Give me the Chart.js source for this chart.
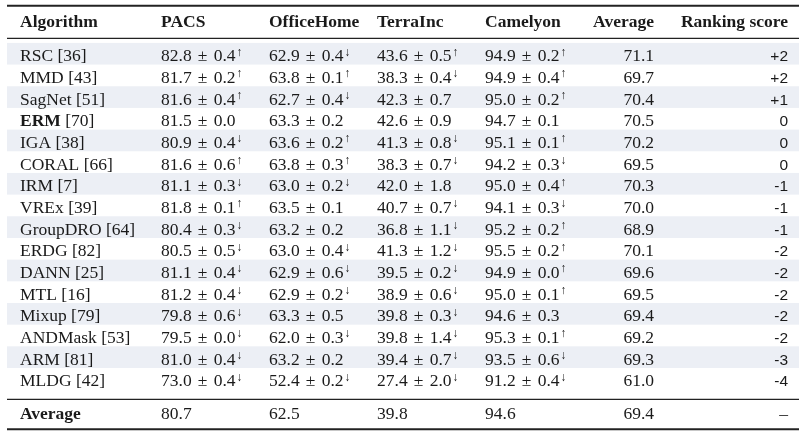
<!DOCTYPE html>
<html>
<head>
<meta charset="utf-8">
<script src="https://cdn.jsdelivr.net/npm/chart.js@4.4.1/dist/chart.umd.min.js"></script>
<style>
  html, body { margin: 0; background: #fff; }
  #wrap { width: 812px; height: 438px; }
</style>
</head>
<body>
<div id="wrap"><canvas id="tbl" width="812" height="438"></canvas></div>
<script>
// table data
const columns = ['Algorithm', 'PACS', 'OfficeHome', 'TerraInc', 'Camelyon', 'Average', 'Ranking score'];
const algorithms = ['RSC', 'MMD', 'SagNet', 'ERM', 'IGA', 'CORAL', 'IRM', 'VREx', 'GroupDRO', 'ERDG', 'DANN', 'MTL', 'Mixup', 'ANDMask', 'ARM', 'MLDG'];
const refs = [36, 43, 51, 70, 38, 66, 7, 39, 64, 82, 25, 16, 79, 53, 81, 42];
const boldAlgo = 'ERM';

const pacsMean = [82.8, 81.7, 81.6, 81.5, 80.9, 81.6, 81.1, 81.8, 80.4, 80.5, 81.1, 81.2, 79.8, 79.5, 81.0, 73.0];
const pacsStd  = [0.4, 0.2, 0.4, 0.0, 0.4, 0.6, 0.3, 0.1, 0.3, 0.5, 0.4, 0.4, 0.6, 0.0, 0.4, 0.4];
const pacsTrend = [1, 1, 1, 0, -1, 1, -1, 1, -1, -1, -1, -1, -1, -1, -1, -1];

const officeMean = [62.9, 63.8, 62.7, 63.3, 63.6, 63.8, 63.0, 63.5, 63.2, 63.0, 62.9, 62.9, 63.3, 62.0, 63.2, 52.4];
const officeStd  = [0.4, 0.1, 0.4, 0.2, 0.2, 0.3, 0.2, 0.1, 0.2, 0.4, 0.6, 0.2, 0.5, 0.3, 0.2, 0.2];
const officeTrend = [-1, 1, -1, 0, 1, 1, -1, 0, 0, -1, -1, -1, 0, -1, 0, -1];

const terraMean = [43.6, 38.3, 42.3, 42.6, 41.3, 38.3, 42.0, 40.7, 36.8, 41.3, 39.5, 38.9, 39.8, 39.8, 39.4, 27.4];
const terraStd  = [0.5, 0.4, 0.7, 0.9, 0.8, 0.7, 1.8, 0.7, 1.1, 1.2, 0.2, 0.6, 0.3, 1.4, 0.7, 2.0];
const terraTrend = [1, -1, 0, 0, -1, -1, 0, -1, -1, -1, -1, -1, -1, -1, -1, -1];

const camMean = [94.9, 94.9, 95.0, 94.7, 95.1, 94.2, 95.0, 94.1, 95.2, 95.5, 94.9, 95.0, 94.6, 95.3, 93.5, 91.2];
const camStd  = [0.2, 0.4, 0.2, 0.1, 0.1, 0.3, 0.4, 0.3, 0.2, 0.2, 0.0, 0.1, 0.3, 0.1, 0.6, 0.4];
const camTrend = [1, 1, 1, 0, 1, -1, 1, -1, 1, 1, 1, 1, 0, 1, -1, -1];

const avgScore = [71.1, 69.7, 70.4, 70.5, 70.2, 69.5, 70.3, 70.0, 68.9, 70.1, 69.6, 69.5, 69.4, 69.2, 69.3, 61.0];
const rankScore = [2, 2, 1, 0, 0, 0, -1, -1, -1, -2, -2, -2, -2, -2, -3, -4];
const colAverages = ['80.7', '62.5', '39.8', '94.6', '69.4', '\u2013'];

// layout: x in page px on a hidden linear scale, y in row units
const colX = [20, 161, 269, 377, 485, 654, 788];
const colAlign = ['left', 'left', 'left', 'left', 'left', 'right', 'right'];
const tableLeft = 7, tableRight = 799;
const Y_MIN = -2.48, Y_MAX = 17.73;
const HEADER_ROW = -1.56, AVG_ROW = 16.5;
const rules = [{ y: -2.21, w: 2 }, { y: -0.71, w: 1.2 }, { y: 15.95, w: 1.4 }, { y: 17.33, w: 2 }];

const SERIF = '17.5px "Liberation Serif", "Times New Roman", serif';
const SERIF_B = 'bold 17.5px "Liberation Serif", "Times New Roman", serif';
const SANS = '15.5px "Liberation Sans", Arial, sans-serif';
const ARROW = '12px "Liberation Serif", serif';
const INK = '#1a1a1a';
const PM_GAP = 6.2;
const BASE_SHIFT = 7.5;

function pmCells(mean, std, trend) {
  return mean.map((m, i) => ({ t: 'pm', m, s: std[i], tr: trend[i] }));
}

const bodyCells = [
  algorithms.map((a, i) => ({ t: 'algo', name: a, ref: refs[i], bold: a === boldAlgo })),
  pmCells(pacsMean, pacsStd, pacsTrend),
  pmCells(officeMean, officeStd, officeTrend),
  pmCells(terraMean, terraStd, terraTrend),
  pmCells(camMean, camStd, camTrend),
  avgScore.map(v => ({ t: 'txt', s: v.toFixed(1), font: SERIF })),
  rankScore.map(v => ({ t: 'txt', s: (v > 0 ? '+' : '') + v, font: SANS }))
];

const datasets = columns.map((col, c) => {
  const cells = [{ t: 'txt', s: col, font: SERIF_B }]
    .concat(bodyCells[c])
    .concat([c === 0 ? { t: 'txt', s: 'Average', font: SERIF_B } : { t: 'txt', s: colAverages[c - 1], font: SERIF }]);
  const rowsY = [HEADER_ROW].concat(algorithms.map((_, i) => i)).concat([AVG_ROW]);
  return {
    label: col,
    data: rowsY.map(y => ({ x: colX[c], y })),
    cells,
    align: colAlign[c],
    pointRadius: 0
  };
});

function drawPm(ctx, cell, x, y) {
  ctx.font = SERIF;
  ctx.textAlign = 'left';
  const a = cell.m.toFixed(1), b = cell.s.toFixed(1);
  ctx.fillText(a, x, y); x += ctx.measureText(a).width + PM_GAP;
  ctx.fillText('\u00b1', x, y); x += ctx.measureText('\u00b1').width + PM_GAP;
  ctx.fillText(b, x, y); x += ctx.measureText(b).width + 0.8;
  if (cell.tr) {
    ctx.font = ARROW;
    ctx.fillText(cell.tr > 0 ? '\u2191' : '\u2193', x, y - 5.5);
  }
}

function drawCell(ctx, cell, x, y, align) {
  ctx.fillStyle = INK;
  if (cell.t === 'pm') return drawPm(ctx, cell, x, y);
  if (cell.t === 'algo') {
    ctx.textAlign = 'left';
    ctx.font = cell.bold ? SERIF_B : SERIF;
    ctx.fillText(cell.name, x, y);
    const w = ctx.measureText(cell.name + ' ').width;
    ctx.font = SERIF;
    ctx.fillText('[' + cell.ref + ']', x + w, y);
    return;
  }
  ctx.font = cell.font;
  ctx.textAlign = align;
  ctx.fillText(cell.s, x, y);
}

const tablePlugin = {
  id: 'tableDraw',
  beforeDatasetsDraw(chart) {
    const { ctx, scales: { x, y } } = chart;
    const l = x.getPixelForValue(tableLeft), r = x.getPixelForValue(tableRight);
    ctx.save();
    // zebra shading on the odd (1st, 3rd, ...) rows
    ctx.fillStyle = '#eceff5';
    algorithms.forEach((_, i) => {
      if (i % 2) return;
      const t = y.getPixelForValue(i - 0.5), b = y.getPixelForValue(i + 0.5);
      ctx.fillRect(l, t, r - l, b - t);
    });
    ctx.strokeStyle = '#222';
    rules.forEach(rule => {
      const py = y.getPixelForValue(rule.y);
      ctx.lineWidth = rule.w;
      ctx.beginPath(); ctx.moveTo(l, py); ctx.lineTo(r, py); ctx.stroke();
    });
    ctx.restore();
  },
  afterDatasetsDraw(chart) {
    const ctx = chart.ctx;
    ctx.save();
    ctx.textBaseline = 'alphabetic';
    chart.data.datasets.forEach((ds, c) => {
      chart.getDatasetMeta(c).data.forEach((pt, i) => {
        drawCell(ctx, ds.cells[i], pt.x, pt.y + BASE_SHIFT, ds.align);
      });
    });
    ctx.restore();
  }
};

new Chart(document.getElementById('tbl'), {
  type: 'scatter',
  data: { datasets },
  options: {
    responsive: false,
    animation: false,
    events: [],
    layout: { padding: 0 },
    plugins: { legend: { display: false }, tooltip: { enabled: false } },
    scales: {
      x: { type: 'linear', min: 0, max: 812, display: false },
      y: { type: 'linear', reverse: true, min: Y_MIN, max: Y_MAX, display: false }
    }
  },
  plugins: [tablePlugin]
});
</script>
</body>
</html>
